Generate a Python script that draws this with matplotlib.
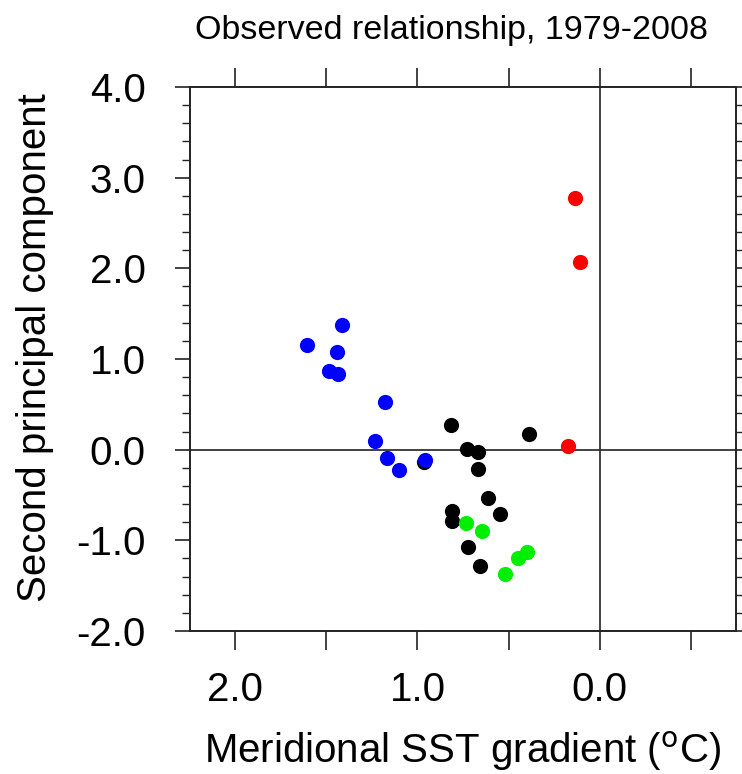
import matplotlib
matplotlib.use("Agg")
import matplotlib.pyplot as plt
from matplotlib.ticker import MultipleLocator

plt.rcParams["font.family"] = ["Liberation Sans", "DejaVu Sans"]

# SST gradient (x) and second PC (y), grouped by colour
blue_x = [1.412, 1.608, 1.440, 1.484, 1.434, 1.176, 1.232, 1.168, 1.101, 0.958]
blue_y = [1.379, 1.150, 1.080, 0.871, 0.838, 0.525, 0.092, -0.088, -0.225, -0.110]

black_x = [0.963, 0.818, 0.727, 0.665, 0.668, 0.385, 0.610, 0.549, 0.808, 0.811, 0.720, 0.654]
black_y = [-0.140, 0.268, 0.011, -0.026, -0.210, 0.176, -0.529, -0.706, -0.680, -0.791, -1.074, -1.287]

green_x = [0.734, 0.646, 0.396, 0.448, 0.518]
green_y = [-0.805, -0.901, -1.129, -1.191, -1.375]

red_x = [0.134, 0.108, 0.174]
red_y = [2.775, 2.069, 0.042]

x_labeled = [2.0, 1.0, 0.0]

fig = plt.figure(figsize=(7.42, 7.74), dpi=100)
ax = fig.add_axes([0.256, 0.1848, 0.736, 0.7028])

ax.axhline(0, color="#333333", lw=1.3, zorder=1)
ax.axvline(0, color="#333333", lw=1.3, zorder=1)

ms = 120
ax.scatter(black_x, black_y, s=ms, color="black", lw=0, zorder=3)
ax.scatter(blue_x, blue_y, s=ms, color="#0000ff", lw=0, zorder=4)
ax.scatter(green_x, green_y, s=ms, color="#00ee00", lw=0, zorder=5)
ax.scatter(red_x, red_y, s=ms, color="#ff0000", lw=0, zorder=6)

ax.set_xlim(2.25, -0.75)
ax.set_ylim(-2.0, 4.0)

ax.xaxis.set_major_locator(MultipleLocator(0.5))
ax.xaxis.set_major_formatter(
    plt.FuncFormatter(lambda v, p: f"{v:.1f}" if any(abs(v - t) < 1e-6 for t in x_labeled) else "")
)
ax.yaxis.set_major_locator(MultipleLocator(1.0))
ax.yaxis.set_minor_locator(MultipleLocator(0.2))
ax.yaxis.set_major_formatter(plt.FuncFormatter(lambda v, p: f"{v:.1f}"))

ax.tick_params(axis="both", which="major", direction="out", length=14, width=1.2,
               labelsize=29, top=True, right=True, color="#222222")
ax.tick_params(axis="y", which="major", length=11, pad=21)
ax.tick_params(axis="x", which="major", pad=15)
ax.tick_params(axis="y", which="minor", direction="out", length=6, width=1.0,
               right=True, color="#222222")

for sp in ax.spines.values():
    sp.set_linewidth(1.4)
    sp.set_color("#222222")

ax.set_xlabel("Meridional SST gradient ($^{\\rm o}$C)", fontsize=29, va="baseline")
ax.xaxis.set_label_coords(0.5, -0.243)
ax.set_ylabel("Second principal component", fontsize=29)
ax.yaxis.set_label_coords(-0.249, 0.52)
fig.text(0.609, 0.9496, "Observed relationship, 1979-2008", ha="center", va="baseline", fontsize=24.5)

fig.savefig("out.png", dpi=100)
